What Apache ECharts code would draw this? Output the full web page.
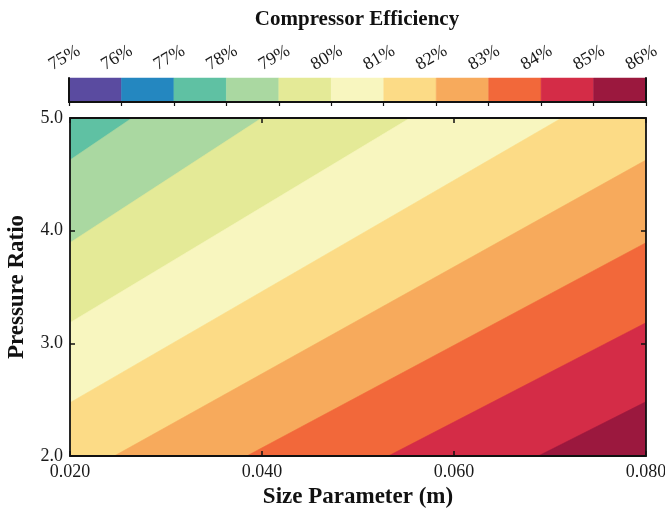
<!DOCTYPE html>
<html><head><meta charset="utf-8">
<script src="https://cdn.jsdelivr.net/npm/echarts@6/dist/echarts.min.js"></script>
<style>html,body{margin:0;padding:0;background:#fff}#c{width:665px;height:514px}</style>
</head><body><div id="c"></div>
<script>
// ---- data ----
const sizeTicks = [0.02, 0.04, 0.06, 0.08];          // Size Parameter (m)
const pressureTicks = [2.0, 3.0, 4.0, 5.0];           // Pressure Ratio
const levels = [75, 76, 77, 78, 79, 80, 81, 82, 83, 84, 85, 86]; // efficiency %
const bandColors = ['#5a4ba0', '#2487c0', '#5fc1a3', '#aad8a1', '#e4ea97', '#f8f6bf',
                    '#fcdb86', '#f7aa5c', '#f2683a', '#d42c47', '#9b183e'];
const cornerLevel = 77; // band at the top-left corner (77-78 %)
// contour lines: level, start point [size, pressure], end point [size, pressure]
const contourLevels = [78, 79, 80, 81, 82, 83, 84, 85];
const contourStart = [[0.02, 4.627], [0.02, 3.893], [0.02, 3.183], [0.02, 2.473],
                      [0.02461, 2.0], [0.03841, 2.0], [0.05316, 2.0], [0.06878, 2.0]];
const contourEnd   = [[0.02646, 5.0], [0.03997, 5.0], [0.05542, 5.0], [0.07122, 5.0],
                      [0.08, 4.627], [0.08, 3.893], [0.08, 3.183], [0.08, 2.482]];

const FONT = '"Liberation Serif", "Times New Roman", serif';
const xMin = sizeTicks[0], xMax = sizeTicks[sizeTicks.length - 1];
const yMin = pressureTicks[0], yMax = pressureTicks[pressureTicks.length - 1];

function clipHalf(poly, P, Q) {
  const f = p => (Q[0] - P[0]) * (p[1] - P[1]) - (Q[1] - P[1]) * (p[0] - P[0]);
  const out = [];
  for (let i = 0; i < poly.length; i++) {
    const cur = poly[i], prev = poly[(i + poly.length - 1) % poly.length];
    const fc = f(cur), fp = f(prev);
    const inter = () => { const t = fp / (fp - fc); return [prev[0] + t * (cur[0] - prev[0]), prev[1] + t * (cur[1] - prev[1])]; };
    if (fc >= 0) { if (fp < 0) out.push(inter()); out.push(cur); }
    else if (fp >= 0) out.push(inter());
  }
  return out;
}

// band items: first = base fill, then one per contour level (painted in order)
const bandData = [[xMin, yMin, -1]].concat(contourLevels.map((l, i) => [xMin, yMin, i]));

const chart = echarts.init(document.getElementById('c'), null, {renderer: 'canvas'});
const axisLineStyle = {color: '#111', width: 1.8};
chart.setOption({
  animation: false,
  backgroundColor: '#fff',
  title: {
    text: 'Compressor Efficiency', left: 352, top: 4, textAlign: 'center',
    textStyle: {fontFamily: FONT, fontWeight: 'bold', fontSize: 21, color: '#111'}
  },
  grid: [
    {left: 70, right: 19, top: 118, bottom: 58, containLabel: false, outerBoundsMode: 'none'},
    {left: 69, right: 19, top: 78, height: 24, containLabel: false, outerBoundsMode: 'none'}
  ],
  xAxis: [
    {gridIndex: 0, type: 'value', min: xMin, max: xMax, interval: 0.02, position: 'bottom', z: 10,
     axisLine: {show: true, lineStyle: axisLineStyle},
     axisTick: {show: true, inside: true, length: 5, lineStyle: {color: '#111', width: 1.5}},
     axisLabel: {formatter: v => v.toFixed(3), fontFamily: FONT, fontSize: 18, color: '#1a1a1a', margin: 7},
     splitLine: {show: false},
     name: 'Size Parameter (m)', nameLocation: 'middle', nameGap: 29,
     nameTextStyle: {fontFamily: FONT, fontWeight: 'bold', fontSize: 23, color: '#111'}},
    {gridIndex: 0, type: 'value', min: xMin, max: xMax, interval: 0.02, position: 'top', z: 10,
     axisLine: {show: true, lineStyle: axisLineStyle},
     axisTick: {show: true, inside: true, length: 5, lineStyle: {color: '#111', width: 1.5}},
     axisLabel: {show: false}, splitLine: {show: false}},
    {gridIndex: 1, type: 'value', min: levels[0], max: levels[levels.length - 1], interval: 1, position: 'top', z: 10,
     axisLine: {show: true, lineStyle: {color: '#111', width: 2}},
     axisTick: {show: true, inside: true, length: 4, lineStyle: {color: '#111', width: 1.2}},
     axisLabel: {show: false}, splitLine: {show: false}},
    {gridIndex: 1, type: 'value', min: levels[0], max: levels[levels.length - 1], position: 'bottom', z: 10,
     axisLine: {show: true, lineStyle: {color: '#111', width: 2}},
     axisTick: {show: false}, axisLabel: {show: false}, splitLine: {show: false}}
  ],
  yAxis: [
    {gridIndex: 0, type: 'value', min: yMin, max: yMax, interval: 1, position: 'left', z: 10,
     axisLine: {show: true, lineStyle: axisLineStyle},
     axisTick: {show: true, inside: true, length: 5, lineStyle: {color: '#111', width: 1.5}},
     axisLabel: {formatter: v => v.toFixed(1), fontFamily: FONT, fontSize: 18, color: '#1a1a1a', margin: 7},
     splitLine: {show: false},
     name: 'Pressure Ratio', nameLocation: 'middle', nameGap: 41, nameRotate: 90,
     nameTextStyle: {fontFamily: FONT, fontWeight: 'bold', fontSize: 23, color: '#111'}},
    {gridIndex: 0, type: 'value', min: yMin, max: yMax, interval: 1, position: 'right', z: 10,
     axisLine: {show: true, lineStyle: axisLineStyle},
     axisTick: {show: true, inside: true, length: 5, lineStyle: {color: '#111', width: 1.5}},
     axisLabel: {show: false}, splitLine: {show: false}},
    {gridIndex: 1, type: 'value', min: 0, max: 1, position: 'left', z: 10,
     axisLine: {show: true, lineStyle: {color: '#111', width: 2}},
     axisTick: {show: false}, axisLabel: {show: false}, splitLine: {show: false}},
    {gridIndex: 1, type: 'value', min: 0, max: 1, position: 'right', z: 10,
     axisLine: {show: true, lineStyle: {color: '#111', width: 2}},
     axisTick: {show: false}, axisLabel: {show: false}, splitLine: {show: false}}
  ],
  series: [
    { // filled contour bands
      type: 'custom', xAxisIndex: 0, yAxisIndex: 0, clip: true,
      data: bandData, encode: {x: 0, y: 1},
      renderItem: function (params, api) {
        const i = api.value(2);
        let poly = [api.coord([xMin, yMax]), api.coord([xMax, yMax]), api.coord([xMax, yMin]), api.coord([xMin, yMin])];
        let level = cornerLevel;
        if (i >= 0) {
          poly = clipHalf(poly, api.coord(contourStart[i]), api.coord(contourEnd[i]));
          level = contourLevels[i];
        }
        const color = bandColors[levels.indexOf(level)];
        return {type: 'polygon', shape: {points: poly},
                style: {fill: color, stroke: color, lineWidth: 0.6}};
      }
    },
    { // colorbar swatches
      type: 'custom', xAxisIndex: 2, yAxisIndex: 2,
      data: levels.slice(0, -1).map((l, i) => [l, levels[i + 1], i]),
      encode: {x: [0, 1]},
      renderItem: function (params, api) {
        const p0 = api.coord([api.value(0), 1]);
        const p1 = api.coord([api.value(1), 0]);
        const c = bandColors[api.value(2)];
        return {type: 'rect', shape: {x: p0[0], y: p0[1], width: p1[0] - p0[0], height: p1[1] - p0[1]},
                style: {fill: c, stroke: c, lineWidth: 0.5}};
      }
    },
    { // colorbar tick labels
      type: 'custom', xAxisIndex: 2, yAxisIndex: 2, clip: false,
      data: levels.map(l => [l, 1]), encode: {x: 0, y: 1},
      renderItem: function (params, api) {
        const p = api.coord([api.value(0), 1]);
        return {type: 'text', x: p[0] - 4.5, y: p[1] - 20, rotation: Math.PI / 6,
                style: {text: api.value(0) + '%', fill: '#1a1a1a', font: '18px ' + FONT,
                        align: 'center', verticalAlign: 'middle'}};
      }
    }
  ]
});
</script></body></html>
